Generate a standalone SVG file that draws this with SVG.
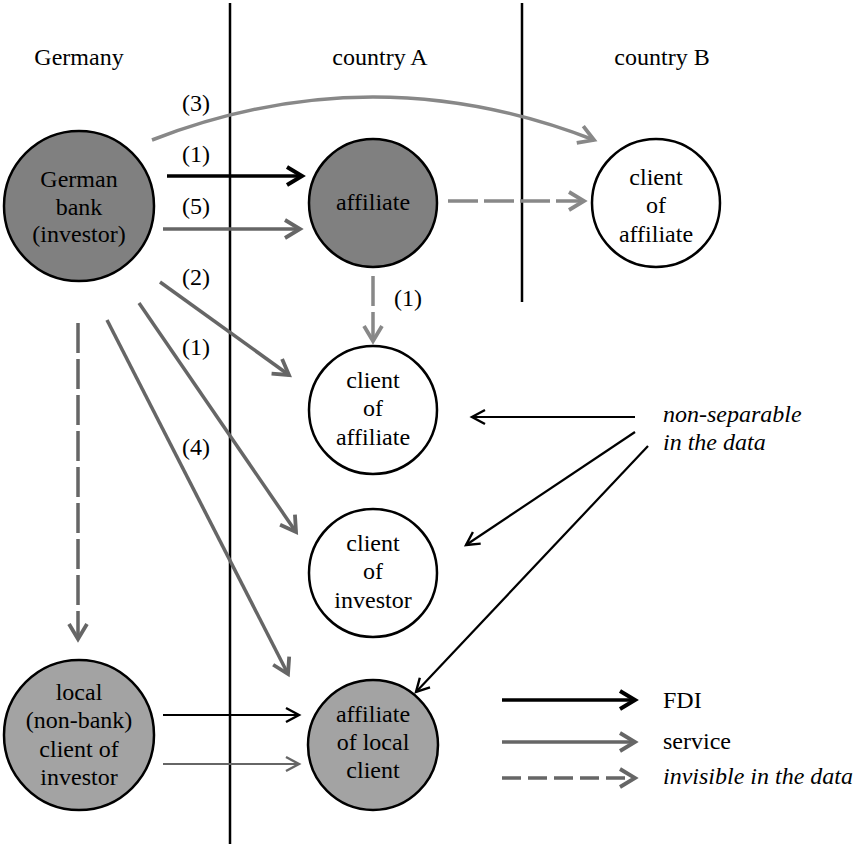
<svg xmlns="http://www.w3.org/2000/svg" width="860" height="844" viewBox="0 0 860 844">
<style>
.t{text-anchor:middle}
.it{font-style:italic}
.div{stroke:#000;stroke-width:2.5;fill:none}
.dark{fill:#808080;stroke:#000;stroke-width:2.5}
.light{fill:#a3a3a3;stroke:#000;stroke-width:2.5}
.white{fill:#fff;stroke:#000;stroke-width:2.5}
.fdi{stroke:#000;stroke-width:3.5;fill:none}
.srv{stroke:#666;stroke-width:3.5;fill:none}
.srvl{stroke:#888;stroke-width:3.5;fill:none}
.dsh{stroke:#666;stroke-width:3.5;fill:none;stroke-dasharray:30 6}
.dshl{stroke:#888;stroke-width:3.5;fill:none;stroke-dasharray:30 6}
.thin{stroke:#000;stroke-width:2.2;fill:none}
.thing{stroke:#666;stroke-width:2.2;fill:none}
</style>
<defs>
<marker id="mBlack" viewBox="-20 -12 24 24" markerWidth="24" markerHeight="24" refX="0" refY="0" orient="auto" markerUnits="userSpaceOnUse">
<path d="M-15,-9 L0,0 L-15,9" fill="none" stroke="#000" stroke-width="4"/>
</marker>
<marker id="mDark" viewBox="-20 -12 24 24" markerWidth="24" markerHeight="24" refX="0" refY="0" orient="auto" markerUnits="userSpaceOnUse">
<path d="M-15,-9 L0,0 L-15,9" fill="none" stroke="#666" stroke-width="3.8"/>
</marker>
<marker id="mLight" viewBox="-20 -12 24 24" markerWidth="24" markerHeight="24" refX="0" refY="0" orient="auto" markerUnits="userSpaceOnUse">
<path d="M-15,-9 L0,0 L-15,9" fill="none" stroke="#888" stroke-width="3.8"/>
</marker>
<marker id="mThin" viewBox="-20 -12 24 24" markerWidth="24" markerHeight="24" refX="0" refY="0" orient="auto" markerUnits="userSpaceOnUse">
<path d="M-13,-7 L0,0 L-13,7" fill="none" stroke="#000" stroke-width="2.4"/>
</marker>
<marker id="mThinG" viewBox="-20 -12 24 24" markerWidth="24" markerHeight="24" refX="0" refY="0" orient="auto" markerUnits="userSpaceOnUse">
<path d="M-13,-7 L0,0 L-13,7" fill="none" stroke="#666" stroke-width="2.4"/>
</marker>
</defs>

<g id="dividers">
<line class="div" x1="230" y1="3" x2="230" y2="844"/>
<line class="div" x1="522" y1="3" x2="522" y2="302"/>
</g>

<g font-family="Liberation Serif, serif" font-size="24" fill="#000">
<g id="headers">
<text class="t" x="79" y="65">Germany</text>
<text class="t" x="380" y="65">country A</text>
<text class="t" x="662" y="65">country B</text>
</g>
</g>

<g id="connectors">
<path class="srvl" d="M152,140 Q373,54 594,140" marker-end="url(#mLight)"/>
<line class="fdi" x1="167" y1="176" x2="302" y2="176" marker-end="url(#mBlack)"/>
<line class="srv" x1="163" y1="229" x2="300" y2="229" marker-end="url(#mDark)"/>
<line class="dshl" x1="448" y1="201" x2="584" y2="201" marker-end="url(#mLight)"/>
<line class="dshl" x1="373" y1="276" x2="373" y2="341" marker-end="url(#mLight)"/>
<line class="srv" x1="160" y1="282" x2="289" y2="375" marker-end="url(#mDark)"/>
<line class="srv" x1="139" y1="303" x2="296" y2="532" marker-end="url(#mDark)"/>
<line class="srv" x1="107" y1="320" x2="288" y2="674" marker-end="url(#mDark)"/>
<line class="dsh" x1="78" y1="323" x2="78" y2="639" marker-end="url(#mDark)"/>
<line class="thin" x1="635" y1="417" x2="472" y2="417" marker-end="url(#mThin)"/>
<line class="thin" x1="635" y1="432" x2="466" y2="545" marker-end="url(#mThin)"/>
<line class="thin" x1="648" y1="446" x2="416" y2="692" marker-end="url(#mThin)"/>
<line class="thin" x1="163" y1="715" x2="299" y2="715" marker-end="url(#mThin)"/>
<line class="thing" x1="163" y1="764" x2="299" y2="764" marker-end="url(#mThinG)"/>
</g>

<g font-family="Liberation Serif, serif" font-size="24" fill="#000">
<g id="labels">
<text class="t" x="196" y="111">(3)</text>
<text class="t" x="196" y="162">(1)</text>
<text class="t" x="196" y="214">(5)</text>
<text class="t" x="196" y="285">(2)</text>
<text class="t" x="196" y="355">(1)</text>
<text class="t" x="196" y="455">(4)</text>
<text class="t" x="408" y="306">(1)</text>
<text class="it" x="663" y="422">non-separable</text>
<text class="it" x="663" y="450">in the data</text>
</g>

<g id="node-german-bank">
<circle class="dark" cx="79" cy="206" r="75"/>
<text class="t" x="79" y="187">German</text>
<text class="t" x="79" y="215">bank</text>
<text class="t" x="79" y="242">(investor)</text>
</g>

<g id="node-affiliate">
<circle class="dark" cx="373" cy="203" r="64"/>
<text class="t" x="373" y="210">affiliate</text>
</g>

<g id="node-client-of-affiliate-b">
<circle class="white" cx="656" cy="203" r="64"/>
<text class="t" x="656" y="185">client</text>
<text class="t" x="656" y="213">of</text>
<text class="t" x="656" y="242">affiliate</text>
</g>

<g id="node-client-of-affiliate-a">
<circle class="white" cx="373" cy="410" r="64"/>
<text class="t" x="373" y="388">client</text>
<text class="t" x="373" y="416">of</text>
<text class="t" x="373" y="445">affiliate</text>
</g>

<g id="node-client-of-investor">
<circle class="white" cx="373" cy="573" r="64"/>
<text class="t" x="373" y="551">client</text>
<text class="t" x="373" y="579">of</text>
<text class="t" x="373" y="608">investor</text>
</g>

<g id="node-local-client">
<circle class="light" cx="79" cy="735" r="75"/>
<text class="t" x="79" y="700">local</text>
<text class="t" x="79" y="728">(non-bank)</text>
<text class="t" x="79" y="757">client of</text>
<text class="t" x="79" y="785">investor</text>
</g>

<g id="node-affiliate-of-local-client">
<circle class="light" cx="373" cy="745" r="65"/>
<text class="t" x="373" y="722">affiliate</text>
<text class="t" x="373" y="750">of local</text>
<text class="t" x="373" y="778">client</text>
</g>

<g id="legend">
<line class="fdi" x1="502" y1="700" x2="635" y2="700" marker-end="url(#mBlack)"/>
<text x="663" y="708">FDI</text>
<line class="srv" x1="502" y1="742" x2="635" y2="742" marker-end="url(#mDark)"/>
<text x="663" y="749">service</text>
<line class="dsh" x1="502" y1="778" x2="635" y2="778" style="stroke-dasharray:19 7" marker-end="url(#mDark)"/>
<text class="it" x="663" y="784">invisible in the data</text>
</g>
</g>
</svg>
